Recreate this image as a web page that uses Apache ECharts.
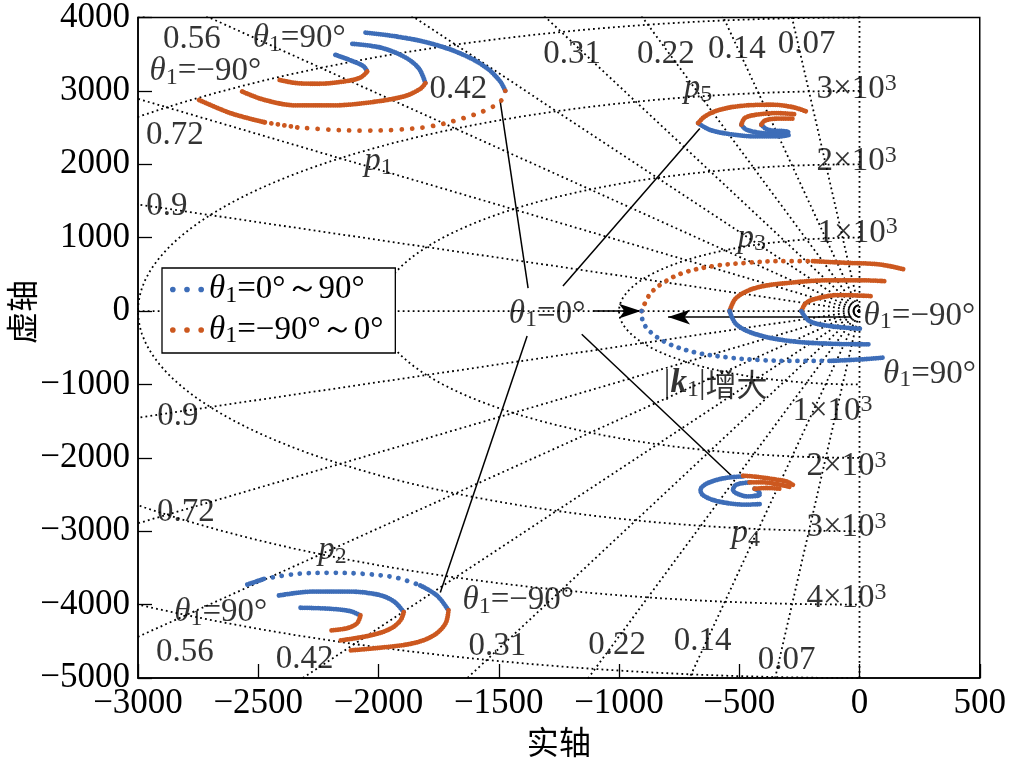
<!DOCTYPE html>
<html><head><meta charset="utf-8">
<script src="https://cdn.jsdelivr.net/npm/echarts@6.0.0/dist/echarts.min.js"></script>
<style>html,body{margin:0;padding:0;background:#fff}#c{width:1009px;height:771px}</style>
</head><body><div id="c"></div>
<script>
// ---------- axis ticks ----------
const xTicks = {min: -3000, max: 500, step: 500};
const yTicks = {min: -5000, max: 4000, step: 1000};
// ---------- s-plane grid (damping ratios / natural frequencies) ----------
const dampingRatios = [0.07, 0.14, 0.22, 0.31, 0.42, 0.56, 0.72, 0.9];
const naturalFreqs = [1000, 2000, 3000, 4000, 5000];

// ---------- root loci, [real, imag]; blue: theta1 0..90deg, orange: theta1 -90..0deg ----------
const p1BlueOuter   = [[-2054,3794],[-1923,3740],[-1785,3649],[-1646,3491],[-1549,3309],[-1494,3128],[-1473,3001]];
const p1OrangeOuter = [[-1473,3001],[-1487,2879],[-1536,2765],[-1646,2629],[-1785,2516],[-1923,2471],[-2061,2458],[-2200,2471],[-2338,2502],[-2476,2574],[-2615,2697],[-2753,2887]];
const p1BlueMid     = [[-2109,3641],[-1992,3590],[-1895,3468],[-1833,3309],[-1805,3105]];
const p1OrangeMid   = [[-1805,3105],[-1826,3029],[-1895,2924],[-2061,2833],[-2200,2802],[-2338,2802],[-2476,2879],[-2573,3001]];
const p1BlueInner   = [[-2179,3491],[-2103,3400],[-2061,3332],[-2047,3264]];
const p1OrangeInner = [[-2047,3264],[-2075,3182],[-2144,3128],[-2255,3097],[-2338,3105],[-2414,3151]];

const p2BlueOuter   = [[-2545,-3726],[-2476,-3649],[-2338,-3581],[-2200,-3567],[-2061,-3581],[-1923,-3635],[-1826,-3740],[-1757,-3876],[-1709,-4080]];
const p2OrangeOuter = [[-1709,-4080],[-1722,-4261],[-1771,-4420],[-1854,-4525],[-1992,-4587],[-2117,-4624]];
const p2BlueMid     = [[-2414,-3876],[-2269,-3822],[-2130,-3822],[-2006,-3862],[-1937,-3954],[-1895,-4103]];
const p2OrangeMid   = [[-1895,-4103],[-1909,-4216],[-1951,-4329],[-2034,-4420],[-2158,-4488]];
const p2BlueInner   = [[-2324,-4043],[-2200,-4057],[-2117,-4090],[-2075,-4148]];
const p2OrangeInner = [[-2075,-4148],[-2089,-4253],[-2130,-4321],[-2200,-4352]];

const p3OrangeOuter = [[-906,0],[-872,227],[-816,385],[-733,521],[-609,612],[-470,657],[-332,680],[-194,680],[-55,657],[83,635],[187,567]];
const p3BlueOuter   = [[-906,0],[-899,-159],[-858,-317],[-789,-453],[-678,-567],[-540,-635],[-401,-670],[-263,-680],[-125,-680],[14,-657],[97,-635]];
const p3OrangeMid   = [[-540,0],[-512,181],[-429,317],[-291,385],[-125,418],[14,418],[104,408]];
const p3BlueMid     = [[-540,0],[-512,-181],[-429,-317],[-291,-408],[-125,-445],[42,-453]];
const p3OrangeInner = [[-242,0],[-221,113],[-166,181],[-83,218],[49,204]];
const p3BlueInner   = [[-242,0],[-208,-136],[-125,-204],[7,-241]];

const p5OrangeOuter = [[-671,2561],[-643,2652],[-581,2743],[-470,2802],[-360,2811],[-277,2778],[-221,2720]];
const p5BlueOuter   = [[-671,2561],[-623,2471],[-540,2411],[-429,2380],[-332,2380],[-291,2403]];
const p5OrangeMid   = [[-491,2539],[-477,2629],[-429,2675],[-346,2697],[-270,2683]];
const p5BlueMid     = [[-491,2539],[-470,2471],[-401,2425],[-304,2411]];
const p5OrangeInner = [[-408,2539],[-394,2594],[-346,2621],[-277,2621]];
const p5BlueInner   = [[-408,2539],[-381,2471],[-304,2448],[-291,2425]];

const p4BlueOuter   = [[-484,-2254],[-540,-2267],[-595,-2302],[-643,-2366],[-661,-2438],[-653,-2502],[-609,-2574],[-540,-2621],[-470,-2638],[-408,-2629]];
const p4OrangeOuter = [[-484,-2244],[-429,-2258],[-360,-2289],[-304,-2322],[-277,-2366]];
const p4BlueMid     = [[-457,-2335],[-512,-2366],[-526,-2438],[-505,-2493],[-464,-2526],[-415,-2516]];
const p4OrangeMid   = [[-457,-2335],[-401,-2335],[-346,-2357],[-291,-2394]];
const p4BlueInner   = [[-436,-2421],[-419,-2458],[-415,-2502],[-440,-2516]];
const p4OrangeInner = [[-436,-2421],[-387,-2411],[-332,-2421]];

// ---------- leader lines and arrows (from the theta1=0 label) ----------
const leaderLines = [
  [[-1378,313],[-1494,2856]],
  [[-1233,340],[-664,2489]],
  [[-1382,-340],[-1743,-3835]],
  [[-1155,-317],[-532,-2244]]
];
const arrowLines = [
  [[-1108,0],[-909,0]],
  [[-34,-82],[-796,-82]]
];

// ---------- text annotations: [real, imag] anchor, rich text ----------
const TH = '{i|θ}{s|1}';
const annotations = [
  [[-2776,3699],'{n|0.56}'], [[-2330,3713], TH+'{n|=90°}'], [[-2720,3264], TH+'{n|=−90°}'],
  [[-2847,2394],'{n|0.72}'], [[-2000,2040],'{i|p}{s|1}'], [[-1668,3019],'{n|0.42}'],
  [[-2880,1428],'{n|0.9}'], [[-1195,3495],'{n|0.31}'], [[-805,3495],'{n|0.22}'],
  [[-510,3563],'{n|0.14}'], [[-220,3631],'{n|0.07}'], [[-672,3033],'{i|p}{s|5}'],
  [[-12,3019],'{n|3×10}{sup|3}'], [[-12,2040],'{n|2×10}{sup|3}'], [[-448,993],'{i|p}{s|3}'],
  [[-8,1061],'{n|1×10}{sup|3}'], [[249,-68], TH+'{n|=−90°}'], [[291,-857], TH+'{n|=90°}'],
  [[-598,-993],'{n||}{b|k}{s|1}{n||}{c|增大}'], [[-1299,-41], TH+'{n|=0°}'],
  [[-2834,-1428],'{n|0.9}'], [[-2801,-2747],'{n|0.72}'], [[-2191,-3264],'{i|p}{s|2}'],
  [[-2656,-4107], TH+'{n|=90°}'], [[-2805,-4651],'{n|0.56}'], [[-2307,-4746],'{n|0.42}'],
  [[-1419,-3944], TH+'{n|=−90°}'], [[-1506,-4570],'{n|0.31}'], [[-112,-1360],'{n|1×10}{sup|3}'],
  [[-54,-2122],'{n|2×10}{sup|3}'], [[-473,-3033],'{i|p}{s|4}'], [[-54,-2951],'{n|3×10}{sup|3}'],
  [[-54,-3917],'{n|4×10}{sup|3}'], [[-1008,-4556],'{n|0.22}'], [[-652,-4502],'{n|0.14}'],
  [[-303,-4760],'{n|0.07}']
];

// ---------- styling ----------
const BLUE = '#3D6DB8', ORANGE = '#CC581F';
const SERIF = 'Liberation Serif';
const CJK = 'Noto Sans CJK SC';
const NAME_B = 'θ1=0°～90°', NAME_O = 'θ1=−90°～0°';
const RICH = {
  n: {fontFamily: SERIF, fontSize: 33, color: '#000', lineHeight: 36},
  i: {fontFamily: SERIF, fontSize: 33, fontStyle: 'italic', color: '#000', lineHeight: 36},
  b: {fontFamily: SERIF, fontSize: 33, fontStyle: 'italic', fontWeight: 'bold', color: '#000', lineHeight: 36},
  s: {fontFamily: SERIF, fontSize: 24, color: '#000', verticalAlign: 'bottom', lineHeight: 20},
  sup: {fontFamily: SERIF, fontSize: 24, color: '#000', verticalAlign: 'top', lineHeight: 12},
  c: {fontFamily: CJK, fontSize: 31, color: '#000', lineHeight: 36}
};

function arc(data, color, gap) {
  return {
    type: 'line', name: color === BLUE ? NAME_B : NAME_O, data: data, smooth: 0.35,
    symbol: 'none', silent: true, z: 5, clip: true,
    itemStyle: {color: color},
    lineStyle: {color: color, width: 4.8, cap: 'round', join: 'round', type: [0.01, gap]},
    emphasis: {disabled: true}
  };
}
const DENSE = 2.2, MED = 6.5, SPARSE = 10.5;

function gridSeries(pts) {
  return {type: 'line', data: pts, symbol: 'none', silent: true, z: 1, clip: true,
    lineStyle: {color: '#000', width: 1.8, type: [1.8, 3.2]}, emphasis: {disabled: true}};
}
const series = [];
const FAR = 30000;
// imaginary axis and negative real axis
series.push(gridSeries([[0, -FAR], [0, FAR]]));
series.push(gridSeries([[0, 0], [-FAR, 0]]));
dampingRatios.forEach(z => {
  const s = Math.sqrt(1 - z * z);
  series.push(gridSeries([[0, 0], [-FAR * z, FAR * s]]));
  series.push(gridSeries([[0, 0], [-FAR * z, -FAR * s]]));
});
naturalFreqs.forEach(w => {
  const pts = [];
  for (let a = 90; a <= 270; a += 2) {
    const r = a * Math.PI / 180;
    pts.push([w * Math.cos(r), w * Math.sin(r)]);
  }
  series.push(gridSeries(pts));
});

// loci
series.push(
  arc(p1BlueOuter, BLUE, DENSE), arc(p1OrangeOuter.slice(0, 9), ORANGE, SPARSE),
  arc(p1OrangeOuter.slice(8, 10), ORANGE, MED), arc(p1OrangeOuter.slice(9), ORANGE, DENSE),
  arc(p1BlueMid, BLUE, DENSE), arc(p1OrangeMid, ORANGE, DENSE),
  arc(p1BlueInner, BLUE, DENSE), arc(p1OrangeInner, ORANGE, DENSE),

  arc(p2BlueOuter.slice(0, 2), BLUE, DENSE), arc(p2BlueOuter.slice(1, 7), BLUE, SPARSE - 1.5),
  arc(p2BlueOuter.slice(6), BLUE, DENSE), arc(p2OrangeOuter, ORANGE, DENSE),
  arc(p2BlueMid, BLUE, DENSE), arc(p2OrangeMid, ORANGE, DENSE),
  arc(p2BlueInner, BLUE, DENSE), arc(p2OrangeInner, ORANGE, DENSE),

  arc(p3OrangeOuter.slice(0, 8), ORANGE, SPARSE - 2.5), arc(p3OrangeOuter.slice(7), ORANGE, DENSE),
  arc(p3BlueOuter.slice(0, 9), BLUE, SPARSE - 2.5), arc(p3BlueOuter.slice(8), BLUE, DENSE),
  arc(p3OrangeMid, ORANGE, DENSE), arc(p3BlueMid, BLUE, DENSE),
  arc(p3OrangeInner, ORANGE, DENSE), arc(p3BlueInner, BLUE, DENSE),

  arc(p5BlueOuter, BLUE, DENSE), arc(p5BlueMid, BLUE, DENSE), arc(p5BlueInner, BLUE, DENSE),
  arc(p5OrangeOuter, ORANGE, DENSE), arc(p5OrangeMid, ORANGE, DENSE), arc(p5OrangeInner, ORANGE, DENSE),

  arc(p4BlueOuter, BLUE, DENSE), arc(p4BlueMid, BLUE, DENSE), arc(p4BlueInner, BLUE, DENSE),
  arc(p4OrangeOuter, ORANGE, DENSE), arc(p4OrangeMid, ORANGE, DENSE), arc(p4OrangeInner, ORANGE, DENSE)
);

// leader lines + arrows + annotations
series.push({
  type: 'scatter', data: annotations.map(a => ({value: a[0], label: {formatter: a[1]}})),
  symbolSize: 0, silent: true, z: 8,
  label: {show: true, position: 'inside', rich: RICH, color: '#000'},
  markLine: {
    silent: true, animation: false, symbol: ['none', 'none'], label: {show: false},
    lineStyle: {color: '#000', width: 1.5, type: 'solid'}, emphasis: {disabled: true},
    data: leaderLines.map(l => [{coord: l[0]}, {coord: l[1]}]).concat(
      arrowLines.map(l => [{coord: l[0], symbol: 'none'}, {coord: l[1], symbol: 'arrow', symbolSize: [11, 22]}]))
  }
});

const threeDots = 'path://M0,3a3,3 0 1,0 6,0a3,3 0 1,0 -6,0zM15,3a3,3 0 1,0 6,0a3,3 0 1,0 -6,0zM30,3a3,3 0 1,0 6,0a3,3 0 1,0 -6,0z';
const fmtNum = v => (v < 0 ? '−' + Math.abs(v) : String(v));

const chart = echarts.init(document.getElementById('c'), null, {renderer: 'canvas'});
chart.setOption({
  animation: false,
  backgroundColor: '#fff',
  grid: {left: 138, right: 28, top: 16, bottom: 93, show: true, borderColor: '#000', borderWidth: 1.5, backgroundColor: 'transparent'},
  xAxis: {
    type: 'value', min: xTicks.min, max: xTicks.max, interval: xTicks.step,
    name: '实轴', nameLocation: 'middle', nameGap: 46,
    nameTextStyle: {fontFamily: CJK, fontSize: 32, color: '#000'},
    axisLine: {show: true, onZero: false, lineStyle: {color: '#000', width: 1.5}},
    axisTick: {show: true, inside: true, length: 14, lineStyle: {color: '#000', width: 1.3}},
    axisLabel: {fontFamily: SERIF, fontSize: 35, color: '#000', margin: 8, formatter: fmtNum, showMinLabel: true, showMaxLabel: true, hideOverlap: false},
    splitLine: {show: false}
  },
  yAxis: {
    type: 'value', min: yTicks.min, max: yTicks.max, interval: yTicks.step,
    axisLine: {show: true, onZero: false, lineStyle: {color: '#000', width: 1.5}},
    axisTick: {show: true, inside: true, length: 14, lineStyle: {color: '#000', width: 1.3}},
    axisLabel: {fontFamily: SERIF, fontSize: 35, color: '#000', margin: 8, formatter: fmtNum, showMinLabel: true, showMaxLabel: true, hideOverlap: false},
    splitLine: {show: false}
  },
  legend: {
    data: [NAME_B, NAME_O], orient: 'vertical', left: 162, top: 268,
    padding: [5, 12, 5, 8], itemGap: 6, itemWidth: 34, itemHeight: 6, icon: threeDots,
    borderColor: '#000', borderWidth: 1.3, backgroundColor: '#fff', selectedMode: false,
    itemStyle: {borderWidth: 0},
    formatter: n => TH + (n === NAME_B ? '{n|=0°～90°}' : '{n|=−90°～0°}'),
    textStyle: {rich: RICH}
  },
  graphic: [{
    type: 'text', x: 22, y: 312, rotation: Math.PI / 2,
    style: {text: '虚轴', font: '32px "' + CJK + '"', fill: '#000', align: 'center', verticalAlign: 'middle'}
  }],
  series: series
});
</script></body></html>
